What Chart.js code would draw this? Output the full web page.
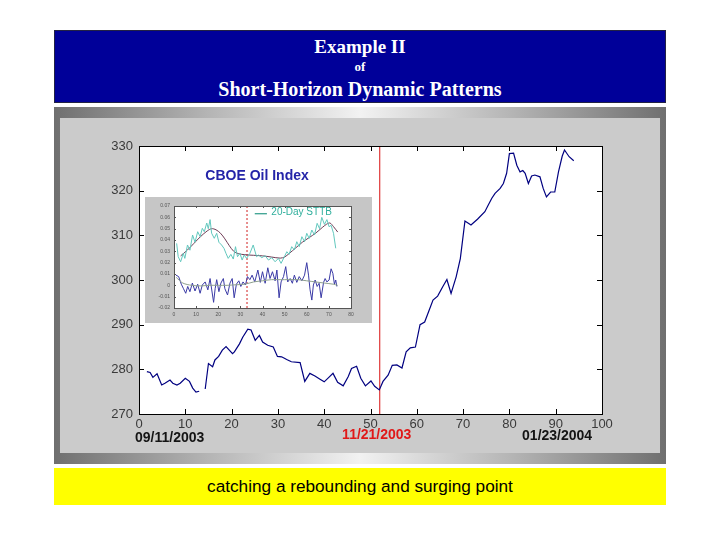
<!DOCTYPE html>
<html>
<head>
<meta charset="utf-8">
<script src="https://cdn.jsdelivr.net/npm/chart.js@4"></script>
<style>
  html, body { margin: 0; padding: 0; background: #ffffff; }
  body { width: 720px; height: 540px; position: relative; overflow: hidden; }
  .abs { position: absolute; }
  #header { left: 54px; top: 30px; width: 612px; height: 73px; background: #000099; box-sizing: border-box; border: 1px solid #222244; }
  .htxt { position: absolute; left: 0; width: 100%; text-align: center; color: #ffffff; font-family: "Liberation Serif", "Times New Roman", serif; font-weight: bold; white-space: nowrap; }
  #frame { left: 54px; top: 107px; width: 612px; height: 357px; background: linear-gradient(to right, #6f6f6f 0%, #b4b4b4 25%, #f2f2f2 50%, #b4b4b4 75%, #6f6f6f 100%); }
  #panel { left: 60px; top: 118px; width: 600px; height: 335px; background: #cbcbcb; }
  #mainWrap { left: 60px; top: 118px; width: 600px; height: 335px; }
  #insetWrap { left: 145px; top: 197px; width: 227px; height: 126px; background: #c6c6c6; }
  #footer { left: 54px; top: 468px; width: 612px; height: 37px; background: #ffff00; text-align: center; font-family: "Liberation Sans", Arial, sans-serif; font-size: 17.2px; line-height: 37px; color: #000; }
</style>
</head>
<body>
<div id="header" class="abs">
  <div class="htxt" style="top:4px;font-size:19px;line-height:24px;">Example II</div>
  <div class="htxt" style="top:28px;font-size:13px;line-height:16px;">of</div>
  <div class="htxt" style="top:45px;font-size:20px;line-height:26px;">Short-Horizon Dynamic Patterns</div>
</div>
<div id="frame" class="abs"></div>
<div id="panel" class="abs"></div>
<div id="mainWrap" class="abs"><canvas id="main" width="600" height="335"></canvas></div>
<div id="insetWrap" class="abs"><canvas id="inset" width="227" height="126"></canvas></div>
<div id="footer" class="abs">catching a rebounding and surging point</div>

<script>
// ---------------- DATA ----------------
// Main chart: CBOE Oil Index (trading day index, index level)
const oilDays = [1.7,2.4,3.0,3.9,4.9,5.6,6.7,7.3,8.2,8.9,
  10.0,10.9,11.6,12.3,13.0,13.6,14.3,15.0,15.9,16.4,
  17.2,18.0,18.8,19.5,20.2,20.6,21.7,22.4,23.5,24.2,
  25.1,26.0,26.7,27.8,29.0,29.9,30.8,31.9,32.9,34.8,
  35.8,36.9,38.0,39.1,40.0,41.0,41.9,42.9,44.1,45.2,
  45.9,47.0,47.9,48.9,50.1,50.9,51.9,52.7,53.8,54.7,
  55.7,56.8,57.7,58.6,59.7,60.7,61.7,62.4,63.5,64.5,
  65.6,66.5,67.4,68.5,69.4,70.4,71.7,73.1,74.7,75.3,
  76.2,76.9,78.0,78.7,79.4,80.0,80.9,81.6,82.3,82.9,
  83.4,84.1,84.8,85.5,86.6,87.3,88.0,88.9,89.8,90.6,
  91.4,91.9,92.9,93.9];
const oilIndex = [279.5,279.3,278.2,279.0,276.5,276.9,277.6,276.9,276.5,276.9,
  278.0,277.3,275.8,274.9,275.1,null,275.6,281.3,280.6,282.1,
  282.9,284.3,285.1,284.3,283.5,283.9,285.7,287.2,289.0,288.8,
  286.5,287.6,286.1,285.4,285.0,282.9,282.8,282.2,281.7,281.5,
  277.3,279.1,278.5,277.8,277.2,278.2,279.1,277.1,276.3,278.4,
  280.2,280.7,278.0,276.3,277.4,276.2,275.4,277.3,278.7,280.9,
  281.0,280.3,283.9,284.8,285.0,290.0,290.6,292.5,295.5,296.4,
  298.5,300.1,297.0,300.7,304.8,313.2,312.3,313.6,315.3,316.5,
  318.3,319.4,320.5,321.6,323.9,328.3,328.4,325.7,324.2,324.5,
  323.9,321.6,323.3,323.5,323.1,320.5,318.6,319.7,319.7,324.2,
  327.7,329.1,327.6,326.7];
const mainXTicks = [0,10,20,30,40,50,60,70,80,90,100];
const mainYTicks = [270,280,290,300,310,320,330];
const markerDay = 52;
const dateLabels = ["09/11/2003", "11/21/2003", "01/23/2004"];
const chartTitle = "CBOE Oil Index";

// Inset: 20-Day STTB
const sttbDays = [1.2,1.9,3.0,4.2,4.9,6.1,7.2,8.4,9.5,10.7,
  11.8,12.8,13.7,14.8,15.5,16.3,17.0,18.2,19.3,20.3,
  21.5,22.6,23.5,24.5,25.7,26.8,27.8,28.7,29.8,30.8,
  31.7,32.8,34.3,35.8,37.3,38.2,39.7,41.2,42.7,44.2,
  45.7,47.2,48.4,49.9,51.0,52.0,53.2,54.4,55.5,56.6,
  57.8,59.0,60.0,61.1,62.3,63.5,64.7,65.8,66.8,68.0,
  69.1,70.1,71.0,72.1,73.1];
const sttbValues = [.037,.0253,.0208,.0282,.0238,.0356,.031,.0444,.038,.0473,
  .043,.0503,.0473,.055,.050,.058,.046,.0415,.0459,.038,
  .0356,.0326,.0282,.0238,.0273,.0232,.0341,.0253,.0282,.0223,
  .0267,.0238,.0282,.0356,.0253,.0267,.0244,.0262,.0223,.0244,
  .0208,.0238,.0194,.0253,.0297,.0273,.0341,.0312,.0385,.0341,
  .0429,.0385,.0459,.0414,.0488,.0444,.0547,.050,.060,.0538,
  .058,.0517,.053,.0459,.0327];
const sttbAvgDays = [3,6,9,12,15,17,19,21,23,25,27,29,32,36,40,44,48,50,52,55,58,61,64,67,69,70.5,72,74];
const sttbAvgValues = [.026,.031,.037,.043,.048,.050,.049,.046,.041,.035,.030,.028,.027,.0265,.026,.025,.024,.025,.028,.033,.038,.042,.046,.051,.054,.055,.052,.047];
const retDays = [0.9,2.1,3.3,4.3,5.3,6.2,7.2,8.3,9.5,10.7,
  11.8,12.8,14.1,15.3,16.3,17.9,18.6,19.3,20.3,21.2,
  22.3,23.0,24.2,25.3,26.3,27.2,28.2,29.3,30.2,31.2,
  32.3,33.2,34.3,35.3,36.5,37.9,39.0,40.0,41.2,42.4,
  43.4,44.5,45.7,46.5,47.5,48.4,49.5,50.5,51.4,52.5,
  53.5,54.4,55.5,56.6,57.8,59.0,60.0,60.8,61.5,62.3,
  63.0,63.8,64.7,65.6,66.5,67.6,68.3,69.1,70.1,71.0,
  71.8,72.5,73.1,73.6];
const retValues = [.009,.0077,.001,-.003,-.007,-.001,-.0056,.002,-.005,.001,
  -.007,.0003,.003,-.004,.006,-.015,-.003,.005,-.0056,.002,
  .006,-.003,-.0085,.002,.006,-.011,.001,.004,-.001,.003,
  .0003,.0077,.005,.009,.003,.0135,.0026,.012,.0018,.0155,
  .006,.012,.004,.0135,-.011,.003,.0077,.0165,.003,.006,
  .0018,.009,.0026,.0077,.004,.009,.020,.009,-.004,-.013,
  .0003,.0047,-.001,.0018,-.011,.0026,.006,.003,.0047,.0146,
  .0106,.001,.0047,-.001];
const retAvgDays = [1,4,8,12,16,20,24,28,32,36,40,44,48,52,56,60,64,68,72,74];
const retAvgValues = [.007,.002,.000,-.0005,.000,.000,.000,.0005,.001,.003,.004,.005,.005,.005,.005,.004,.003,.002,.001,.000];
const insetMarkerDay = 33;
const insetLegend = "20-Day STTB";
const insetXTicks = [0,10,20,30,40,50,60,70,80];
const insetYTicks = [-0.02,-0.01,0,0.01,0.02,0.03,0.04,0.05,0.06,0.07];

// ---------------- HELPERS ----------------
const pts = (xs, ys) => xs.map((x, i) => ({x: x, y: ys[i]}));

const frameTicks = {
  id: 'frameTicks',
  afterDatasetsDraw(chart, args, opts) {
    const {ctx, chartArea: a, scales: {x, y}} = chart;
    const L = opts.len;
    ctx.save();
    ctx.strokeStyle = opts.color;
    ctx.lineWidth = 1;
    ctx.beginPath();
    x.ticks.forEach(t => {
      const p = Math.round(x.getPixelForValue(t.value)) + 0.5;
      ctx.moveTo(p, a.bottom); ctx.lineTo(p, a.bottom - L);
      ctx.moveTo(p, a.top); ctx.lineTo(p, a.top + L);
    });
    y.ticks.forEach(t => {
      const p = Math.round(y.getPixelForValue(t.value)) + 0.5;
      ctx.moveTo(a.left, p); ctx.lineTo(a.left + L, p);
      ctx.moveTo(a.right, p); ctx.lineTo(a.right - L, p);
    });
    ctx.stroke();
    ctx.strokeRect(Math.round(a.left) + 0.5, Math.round(a.top) + 0.5,
                   Math.round(a.right - a.left), Math.round(a.bottom - a.top));
    ctx.restore();
  }
};

const whitePlot = {
  id: 'whitePlot',
  beforeDraw(chart) {
    const {ctx, chartArea: a} = chart;
    ctx.save();
    ctx.fillStyle = '#ffffff';
    ctx.fillRect(a.left, a.top, a.right - a.left, a.bottom - a.top);
    ctx.restore();
  }
};

const mainTexts = {
  id: 'mainTexts',
  afterDraw(chart) {
    const {ctx, chartArea: a, scales: {x}} = chart;
    ctx.save();
    ctx.textBaseline = 'middle';
    ctx.font = 'bold 14px "Liberation Sans", Arial, sans-serif';
    ctx.fillStyle = '#2424a8';
    ctx.textAlign = 'center';
    ctx.fillText(chartTitle, x.getPixelForValue(25.5), a.top + 30);
    ctx.fillStyle = '#141414';
    ctx.textAlign = 'left';
    ctx.fillText(dateLabels[0], x.getPixelForValue(0) - 4, a.bottom + 24);
    ctx.fillStyle = '#e01818';
    ctx.textAlign = 'center';
    ctx.fillText(dateLabels[1], x.getPixelForValue(markerDay) - 3, a.bottom + 21);
    ctx.fillStyle = '#141414';
    ctx.fillText(dateLabels[2], x.getPixelForValue(90.3), a.bottom + 22);
    ctx.restore();
  }
};

const insetTexts = {
  id: 'insetTexts',
  afterDraw(chart) {
    const {ctx, scales: {x, y}} = chart;
    ctx.save();
    const ly = y.getPixelForValue(0.0645);
    ctx.strokeStyle = '#2a9a88';
    ctx.lineWidth = 1.2;
    ctx.beginPath();
    ctx.moveTo(x.getPixelForValue(36.5), ly + 1.5);
    ctx.lineTo(x.getPixelForValue(42), ly + 1.5);
    ctx.stroke();
    ctx.font = '10px "Liberation Sans", Arial, sans-serif';
    ctx.fillStyle = '#2fae9c';
    ctx.textBaseline = 'middle';
    ctx.textAlign = 'left';
    ctx.fillText(insetLegend, x.getPixelForValue(44), ly);
    ctx.restore();
  }
};

const fontFam = '"Liberation Sans", Arial, sans-serif';

// ---------------- MAIN CHART ----------------
new Chart(document.getElementById('main'), {
  type: 'line',
  data: {
    datasets: [
      { data: pts(oilDays, oilIndex), borderColor: '#000080', borderWidth: 1.2, pointRadius: 0, spanGaps: false, tension: 0 },
      { data: pts([markerDay, markerDay], [mainYTicks[0], mainYTicks[mainYTicks.length - 1]]), borderColor: '#d81010', borderWidth: 1, pointRadius: 0 }
    ]
  },
  options: {
    responsive: false,
    animation: false,
    devicePixelRatio: 1,
    layout: { padding: { top: 28, right: 58, left: 0, bottom: 0 } },
    plugins: { legend: { display: false }, tooltip: { enabled: false }, frameTicks: { len: 5, color: '#000000' } },
    scales: {
      x: {
        type: 'linear', min: mainXTicks[0], max: mainXTicks[mainXTicks.length - 1],
        afterBuildTicks: s => { s.ticks = mainXTicks.map(v => ({value: v})); },
        afterFit: s => { s.height = 39; },
        grid: { display: false, drawTicks: false }, border: { display: false },
        ticks: { color: '#3a3a3a', padding: 3, maxRotation: 0, autoSkip: false, font: { family: fontFam, size: 13 } }
      },
      y: {
        type: 'linear', min: mainYTicks[0], max: mainYTicks[mainYTicks.length - 1],
        afterBuildTicks: s => { s.ticks = mainYTicks.map(v => ({value: v})); },
        afterFit: s => { s.width = 79; },
        grid: { display: false, drawTicks: false }, border: { display: false },
        ticks: { color: '#3a3a3a', padding: 6, font: { family: fontFam, size: 13 } }
      }
    }
  },
  plugins: [whitePlot, frameTicks, mainTexts]
});

// ---------------- INSET CHART ----------------
new Chart(document.getElementById('inset'), {
  type: 'line',
  data: {
    datasets: [
      { data: pts(retAvgDays, retAvgValues), borderColor: '#8ea08e', borderWidth: 1, pointRadius: 0, tension: 0.3 },
      { data: pts(retDays, retValues), borderColor: '#3a3aa6', borderWidth: 1, pointRadius: 0, tension: 0 },
      { data: pts(sttbDays, sttbValues), borderColor: '#62c8be', borderWidth: 1, pointRadius: 0, tension: 0 },
      { data: pts(sttbAvgDays, sttbAvgValues), borderColor: '#6e3b55', borderWidth: 1, pointRadius: 0, tension: 0.3 },
      { data: pts([insetMarkerDay, insetMarkerDay], [insetYTicks[0], insetYTicks[insetYTicks.length - 1]]), borderColor: '#d02020', borderWidth: 1, borderDash: [2, 2], pointRadius: 0 }
    ]
  },
  options: {
    responsive: false,
    animation: false,
    devicePixelRatio: 1,
    layout: { padding: { top: 9, right: 21, left: 0, bottom: 0 } },
    plugins: { legend: { display: false }, tooltip: { enabled: false }, frameTicks: { len: 2, color: '#555555' } },
    scales: {
      x: {
        type: 'linear', min: insetXTicks[0], max: insetXTicks[insetXTicks.length - 1],
        afterBuildTicks: s => { s.ticks = insetXTicks.map(v => ({value: v})); },
        afterFit: s => { s.height = 15; },
        grid: { display: false, drawTicks: false }, border: { display: false },
        ticks: { color: '#555555', padding: 4, maxRotation: 0, autoSkip: false, font: { family: fontFam, size: 5 } }
      },
      y: {
        type: 'linear', min: insetYTicks[0], max: insetYTicks[insetYTicks.length - 1],
        afterBuildTicks: s => { s.ticks = insetYTicks.map(v => ({value: v})); },
        afterFit: s => { s.width = 29; },
        grid: { display: false, drawTicks: false }, border: { display: false },
        ticks: { color: '#555555', padding: 4, autoSkip: false, font: { family: fontFam, size: 5 },
                 callback: v => String(Math.round(v * 100) / 100) }
      }
    }
  },
  plugins: [whitePlot, frameTicks, insetTexts]
});
</script>
</body>
</html>
